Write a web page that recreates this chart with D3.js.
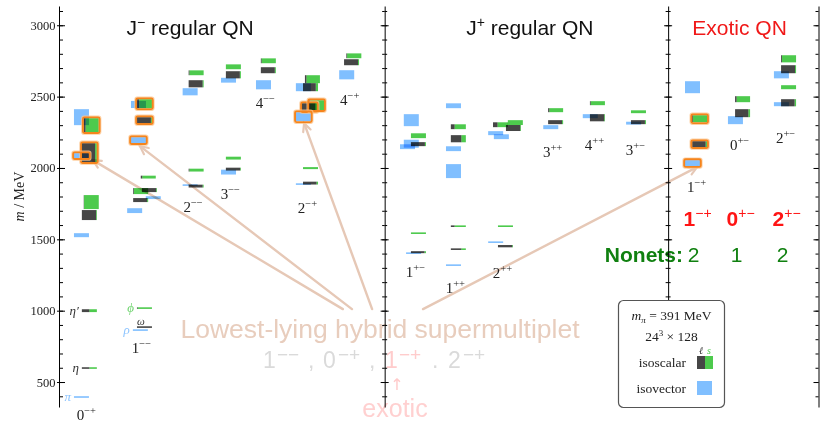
<!DOCTYPE html>
<html><head><meta charset="utf-8">
<script src="https://cdn.jsdelivr.net/npm/d3@7/dist/d3.min.js"></script>
<style>html,body{margin:0;padding:0;background:#fff;}svg{display:block;}</style>
</head><body>
<svg id="chart" width="820" height="423"></svg>
<script>
// ================= DATA =================
const columns   = ["0-+","1--","2--","3--","4--","2-+","4-+","1+-","1++","2++","3++","4++","3+-","1-+","0+-","2+-"];
const columnPos = [0.72,2.17,3.53,4.51,5.43,6.54,7.65,9.38,10.43,11.67,12.99,14.09,15.17,16.78,17.91,19.12];
const labelMass = [234,703,1690,1782,2419,1683,2440,1235,1123,1228,2076,2125,2090,1831,2125,2174];
const panelDividers = [8.57, 16.03];
const panelTitles = ["J⁻ regular QN","J⁺ regular QN","Exotic QN"];
const titlePos = [3.45, 12.39, 17.91];
const massTicks = [500,1000,1500,2000,2500,3000];

// isoscalar: [column, mass, error, light-quark fraction, hybrid, nudge]
const isoscalar = [
  ["0-+", 598, 4, 0.5, 0, 0], ["0-+", 1000, 10, 0.5, 0, 0], ["0-+", 1670, 35, 0.95, 0, 0],
  ["0-+", 1761, 49, 0.02, 0, 0.05], ["0-+", 2107, 67, 0.88, 1, 0], ["0-+", 2300, 49, 0.12, 1, 0.05],
  ["1--", 885, 2, 1.0, 0, 0], ["1--", 1018, 2, 0.05, 0, 0], ["1--", 1775, 14, 0.93, 0, -0.1],
  ["1--", 1838, 21, 0.05, 0, -0.1], ["1--", 1845, 14, 0.95, 0, 0.13], ["1--", 1936, 10, 0.1, 0, 0.1],
  ["1--", 2335, 21, 0.93, 1, 0], ["1--", 2450, 32, 0.15, 1, 0],
  ["2--", 1873, 10, 0.93, 0, 0], ["2--", 1985, 10, 0.05, 0, 0], ["2--", 2590, 25, 0.93, 0, 0], ["2--", 2667, 17, 0.05, 0, 0],
  ["3--", 1992, 10, 0.95, 0, 0], ["3--", 2069, 10, 0.0, 0, 0], ["3--", 2653, 25, 0.93, 0, 0], ["3--", 2709, 17, 0.0, 0, 0],
  ["4--", 2685, 21, 0.93, 0, 0], ["4--", 2751, 17, 0.05, 0, 0],
  ["2-+", 1894, 10, 0.9, 0, 0], ["2-+", 1999, 7, 0.0, 0, 0], ["2-+", 2566, 28, 0.85, 0, 0], ["2-+", 2622, 28, 0.1, 0, 0.05],
  ["2-+", 2426, 28, 0.9, 1, -0.03], ["2-+", 2440, 35, 0.08, 1, 0.16],
  ["4-+", 2741, 21, 0.93, 0, -0.03], ["4-+", 2786, 17, 0.05, 0, 0.03],
  ["1+-", 1410, 7, 0.9, 0, 0], ["1+-", 1543, 5, 0.0, 0, 0], ["1+-", 2167, 14, 0.93, 0, 0], ["1+-", 2226, 17, 0.0, 0, 0],
  ["1++", 1431, 5, 0.7, 0, 0], ["1++", 1592, 5, 0.25, 0, 0], ["1++", 2205, 25, 0.7, 0, 0], ["1++", 2289, 17, 0.25, 0, 0],
  ["2++", 1452, 8, 0.95, 0, 0], ["2++", 1592, 5, 0.0, 0, 0], ["2++", 2303, 17, 0.3, 0, -0.13],
  ["2++", 2318, 17, 0.0, 0, 0.26], ["2++", 2280, 21, 0.95, 0, 0.21],
  ["3++", 2321, 14, 0.93, 0, 0], ["3++", 2405, 14, 0.08, 0, 0],
  ["4++", 2352, 25, 0.95, 0, 0], ["4++", 2454, 14, 0.05, 0, 0],
  ["3+-", 2321, 14, 0.93, 0, 0], ["3+-", 2394, 10, 0.0, 0, 0],
  ["1-+", 2167, 21, 0.9, 1, 0], ["1-+", 2345, 25, 0.06, 1, 0],
  ["0+-", 2384, 28, 0.88, 0, 0], ["0+-", 2482, 21, 0.1, 0, 0],
  ["2+-", 2457, 25, 0.9, 0, 0], ["2+-", 2566, 14, 0.0, 0, 0], ["2+-", 2692, 28, 0.93, 0, 0], ["2+-", 2765, 25, 0.06, 0, 0]
];

// isovector: [column, mass, error, hybrid, nudge]
const isovector = [
  ["0-+", 395, 2, 0, -0.05], ["0-+", 1529, 14, 0, -0.05], ["0-+", 2086, 18, 1, -0.05], ["0-+", 2356, 56, 0, -0.05],
  ["1--", 864, 2, 0, 0.05], ["1--", 1701, 17, 0, -0.1], ["1--", 1792, 10, 0, 0.39], ["1--", 2195, 21, 1, 0], ["1--", 2445, 25, 0, 0],
  ["2--", 1880, 4, 0, 0], ["2--", 2534, 25, 0, 0],
  ["3--", 1971, 17, 0, 0.03], ["3--", 2615, 17, 0, 0.03],
  ["4--", 2583, 32, 0, 0.03],
  ["2-+", 1887, 4, 0, -0.03], ["2-+", 2566, 28, 0, -0.03], ["2-+", 2359, 32, 1, -0.03],
  ["4-+", 2653, 32, 0, 0],
  ["1+-", 1403, 4, 0, 0.03], ["1+-", 2335, 42, 0, -0.03], ["1+-", 2170, 28, 0, -0.03], ["1+-", 2149, 17, 0, -0.13],
  ["1++", 1319, 3, 0, 0.03], ["1++", 2135, 17, 0, 0.03], ["1++", 2436, 17, 0, 0.03], ["1++", 1978, 49, 0, 0.03],
  ["2++", 1480, 3, 0, -0.1], ["2++", 2244, 14, 0, -0.1], ["2++", 2219, 17, 0, 0.05],
  ["3++", 2286, 14, 0, 0.03], ["4++", 2363, 14, 0, -0.03], ["3+-", 2314, 10, 0, 0.03],
  ["1-+", 2566, 42, 0, -0.03], ["1-+", 2034, 21, 1, -0.03],
  ["0+-", 2335, 28, 0, -0.03],
  ["2+-", 2653, 25, 0, -0.03], ["2+-", 2447, 14, 0, -0.03]
];

// named light states: [label, kind, column, mass]
const particles = [["π","iv","0-+",395],["η","iso","0-+",598],["η′","iso","0-+",1000],
                   ["ρ","iv","1--",864],["ω","iso","1--",885],["ϕ","iso","1--",1018]];

const exoticCols = ["1-+","0+-","2+-"];
const nonets = [2,1,2];
const mPi = 391, latticeL = 24, latticeT = 128;

// annotation arrows: start [x-unit, mass] -> target [column, nudge, mass]
const arrowStarts  = [[7.47,1011],[7.71,1011],[8.24,1011],[9.58,1011]];
const arrowTargets = [["0-+",0.17,2055],["1--",-0.04,2153],["2-+",-0.09,2314],["1-+",0.01,2006]];

// ================= STYLE =================
const C_DARK = "#464646", C_GREEN = "#4dca4d", C_BLUE = "#80bfff", C_ORANGE = "#f5841c";
const SERIF = "'Liberation Serif','DejaVu Serif',serif";
const SANS = "'Liberation Sans',Arial,'DejaVu Sans',sans-serif";
const BW = 15, ISO_OFF = -4.5, IV_OFF = -10.5;

const svg = d3.select("#chart");
const x = d3.scaleLinear().domain([0, 20]).range([59, 819]);
const y = d3.scaleLinear().domain([325, 3135]).range([407, 6]);
const ux = u => x(u) - x(0);
const colX = c => x(columnPos[columns.indexOf(c)]);
const sgn = s => s.replace(/-/g, "−");

// ---------- annotation (behind) ----------
const gAnn = svg.append("g");
const annTan = "#e8cdbd";
gAnn.append("text").attr("x", 380).attr("y", 338).attr("text-anchor", "middle")
  .attr("font-family", SANS).attr("font-size", 26.5).attr("fill", annTan)
  .text("Lowest-lying hybrid supermultiplet");

const GRAY = "#dadada", PINK = "#ffcccc";
const line2 = gAnn.append("text").attr("x", 263).attr("y", 368)
  .attr("font-family", SANS).attr("font-size", 23);
// [text, superscript?, colour, left x]
const l2parts = [["1",0,GRAY,263],["−−",1,GRAY,277],[",",0,GRAY,308],["0",0,GRAY,323],["−+",1,GRAY,338],
                 [",",0,GRAY,369],["1",0,PINK,385],["−+",1,PINK,399],[".",0,GRAY,432],["2",0,GRAY,448],["−+",1,GRAY,463]];
l2parts.forEach(([s, sup, col, px]) => {
  const t = line2.append("tspan").attr("fill", col).attr("x", px).attr("y", sup ? 361 : 368).text(s);
  if (sup) t.attr("font-size", 19);
});
gAnn.append("text").attr("x", 397).attr("y", 390).attr("text-anchor", "middle")
  .attr("font-family", "'DejaVu Sans',sans-serif").attr("font-size", 16).attr("fill", "#ffcaca").text("↑");
gAnn.append("text").attr("x", 395).attr("y", 417).attr("text-anchor", "middle")
  .attr("font-family", SANS).attr("font-size", 25).attr("fill", "#ffd0d0").text("exotic");

arrowTargets.forEach((t, i) => {
  const [sxU, sm] = arrowStarts[i];
  const x1 = x(sxU), y1 = y(sm);
  const x2 = colX(t[0]) + ux(t[1]), y2 = y(t[2]);
  gAnn.append("line").attr("x1", x1).attr("y1", y1).attr("x2", x2).attr("y2", y2)
    .attr("stroke", "#e6c8b6").attr("stroke-width", 2.4).attr("stroke-linecap", "round");
  const a = Math.atan2(y1 - y2, x1 - x2), L = 9, sp = 0.45;
  gAnn.append("path")
    .attr("d", `M${x2 + L*Math.cos(a+sp)},${y2 + L*Math.sin(a+sp)}L${x2},${y2}L${x2 + L*Math.cos(a-sp)},${y2 + L*Math.sin(a-sp)}`)
    .attr("fill", "none").attr("stroke", "#e6c8b6").attr("stroke-width", 2.2).attr("stroke-linecap", "round");
});

// ---------- boxes ----------
const gBox = svg.append("g");
function boxGeom(m, e) {
  const h = Math.max(y(m - e) - y(m + e), 1.6);
  return { top: y(m) - h / 2, h };
}
const outlines = [];
isoscalar.forEach(([col, m, e, fl, hyb, nd]) => {
  const x0 = colX(col) + ISO_OFF + ux(nd);
  const g = boxGeom(m, e);
  const wd = BW * fl;
  if (wd > 0) gBox.append("rect").attr("x", x0).attr("y", g.top).attr("width", wd).attr("height", g.h)
    .attr("fill", C_DARK).style("mix-blend-mode", "multiply");
  if (BW - wd > 0) gBox.append("rect").attr("x", x0 + wd).attr("y", g.top).attr("width", BW - wd).attr("height", g.h)
    .attr("fill", C_GREEN).style("mix-blend-mode", "multiply");
  if (hyb) outlines.push([x0, g.top, BW, g.h]);
});
isovector.forEach(([col, m, e, hyb, nd]) => {
  const x0 = colX(col) + IV_OFF + ux(nd);
  const g = boxGeom(m, e);
  gBox.append("rect").attr("x", x0).attr("y", g.top).attr("width", BW).attr("height", g.h)
    .attr("fill", C_BLUE).style("mix-blend-mode", "multiply");
  if (hyb) outlines.push([x0, g.top, BW, g.h]);
});
outlines.forEach(([x0, y0, w, h]) => {
  gBox.append("rect").attr("x", x0 - 1.8).attr("y", y0 - 1.8).attr("width", w + 3.6).attr("height", h + 3.6)
    .attr("rx", 2).attr("fill", "none").attr("stroke", "#fcc58e").attr("stroke-width", 1.6).attr("opacity", 0.8);
  gBox.append("rect").attr("x", x0 - 0.8).attr("y", y0 - 0.8).attr("width", w + 1.6).attr("height", h + 1.6)
    .attr("rx", 1.5).attr("fill", "none").attr("stroke", C_ORANGE).attr("stroke-width", 1.9);
});

// particle names
particles.forEach(([name, kind, col, m]) => {
  let left, color;
  if (kind === "iv") {
    const s = isovector.find(d => d[0] === col && d[1] === m);
    left = colX(col) + IV_OFF + ux(s[4]); color = "#8cc4ff";
  } else {
    const s = isoscalar.find(d => d[0] === col && d[1] === m);
    left = colX(col) + ISO_OFF + ux(s[5]); color = name === "ϕ" ? "#6fd46f" : "#333";
  }
  const t = gBox.append("text").attr("font-family", SERIF).attr("font-style", "italic")
    .attr("font-size", 13).attr("fill", color).text(name);
  if (name === "ω") t.attr("x", left).attr("y", y(m) - 2.5).attr("font-size", 11);
  else t.attr("x", left - 3).attr("y", y(m) + 4).attr("text-anchor", "end");
});

// column labels
columns.forEach((c, i) => {
  const t = gBox.append("text").attr("x", x(columnPos[i])).attr("y", y(labelMass[i]))
    .attr("text-anchor", "middle").attr("font-family", SERIF).attr("font-size", 15).attr("fill", "#222");
  t.append("tspan").text(c[0]);
  t.append("tspan").attr("font-size", 10.5).attr("dy", -6).text(sgn(c.slice(1)));
});

// panel titles
panelTitles.forEach((s, i) => {
  const t = svg.append("text").attr("x", x(titlePos[i])).attr("y", 35).attr("text-anchor", "middle")
    .attr("font-family", SANS).attr("font-size", 21).attr("fill", i === 2 ? "#f01818" : "#111");
  if (s[0] === "J") {
    t.append("tspan").text("J");
    t.append("tspan").attr("font-size", 14).attr("dy", -8).text(s[1] === "⁻" ? "−" : "+");
    t.append("tspan").attr("dy", 8).text(s.slice(2));
  } else t.text(s);
});

// exotic QN + nonets
exoticCols.forEach((c, i) => {
  const t = svg.append("text").attr("x", colX(c) + 1).attr("y", 226).attr("text-anchor", "middle")
    .attr("font-family", SANS).attr("fill", "#ff1414");
  t.append("tspan").attr("font-size", 21).attr("font-weight", "bold").text(c[0]);
  t.append("tspan").attr("font-size", 14).attr("dy", -8).text(sgn(c.slice(1)));
  svg.append("text").attr("x", colX(c) - 3).attr("y", 262).attr("text-anchor", "middle")
    .attr("font-family", SANS).attr("font-size", 21).attr("fill", "#108010").text(nonets[i]);
});
svg.append("text").attr("x", 683).attr("y", 262).attr("text-anchor", "end")
  .attr("font-family", SANS).attr("font-size", 21).attr("font-weight", "bold").attr("fill", "#108010").text("Nonets:");

// ---------- axes ----------
const minorTicks = d3.range(400, 3200, 100);
const gAx = svg.append("g");
gAx.append("g").attr("transform", `translate(${x(0)},0)`)
  .call(d3.axisLeft(y).tickValues(massTicks).tickSize(2).tickSizeOuter(0).tickPadding(1.5).tickFormat(d3.format("d")))
  .call(g => g.selectAll("text").attr("font-family", SERIF).attr("font-size", 12.5).attr("fill", "#222"))
  .call(g => g.selectAll("line,path").attr("stroke", "#000"));
gAx.append("g").attr("transform", `translate(${x(0)},0)`)
  .call(d3.axisRight(y).tickValues(minorTicks).tickSize(4).tickSizeOuter(0).tickFormat(""))
  .call(g => g.select(".domain").remove());
gAx.append("g").attr("transform", `translate(${x(0)},0)`)
  .call(d3.axisRight(y).tickValues(massTicks).tickSize(6).tickSizeOuter(0).tickFormat(""))
  .call(g => g.select(".domain").remove());
panelDividers.forEach(u => {
  const gd = gAx.append("g").attr("transform", `translate(${x(u)},0)`);
  gd.call(d3.axisLeft(y).tickValues(minorTicks).tickSize(2.5).tickSizeOuter(0).tickFormat(""));
  gd.append("g").call(d3.axisRight(y).tickValues(minorTicks).tickSize(2.5).tickSizeOuter(0).tickFormat(""))
    .call(g => g.select(".domain").remove());
  gd.append("g").call(d3.axisLeft(y).tickValues(massTicks).tickSize(4).tickSizeOuter(0).tickFormat(""))
    .call(g => g.select(".domain").remove());
  gd.append("g").call(d3.axisRight(y).tickValues(massTicks).tickSize(4).tickSizeOuter(0).tickFormat(""))
    .call(g => g.select(".domain").remove());
});
const gr = gAx.append("g").attr("transform", `translate(${x(20) - 0.5},0)`);
gr.call(d3.axisLeft(y).tickValues(minorTicks).tickSize(3).tickSizeOuter(0).tickFormat(""));
gr.append("g").call(d3.axisLeft(y).tickValues(massTicks).tickSize(5).tickSizeOuter(0).tickFormat(""))
  .call(g => g.select(".domain").remove());

// y title
const yt = svg.append("text").attr("transform", `translate(24,${y(1800)}) rotate(-90)`)
  .attr("text-anchor", "middle").attr("font-family", SERIF).attr("font-size", 14).attr("fill", "#222");
yt.append("tspan").attr("font-style", "italic").text("m");
yt.append("tspan").text(" / MeV");

// ---------- legend ----------
const lg = svg.append("g").attr("transform", "translate(618.5,300.5)");
lg.append("rect").attr("width", 106).attr("height", 107).attr("rx", 5)
  .attr("fill", "#fff").attr("stroke", "#555").attr("stroke-width", 1.2);
const t1 = lg.append("text").attr("x", 53).attr("y", 19).attr("text-anchor", "middle")
  .attr("font-family", SERIF).attr("font-size", 13.5).attr("fill", "#222");
t1.append("tspan").attr("font-style", "italic").text("m");
t1.append("tspan").attr("font-style", "italic").attr("font-size", 9).attr("dy", 3).text("π");
t1.append("tspan").attr("dy", -3).text(` = ${mPi} MeV`);
const t2 = lg.append("text").attr("x", 53).attr("y", 40).attr("text-anchor", "middle")
  .attr("font-family", SERIF).attr("font-size", 13.5).attr("fill", "#222");
t2.append("tspan").text(latticeL);
t2.append("tspan").attr("font-size", 9).attr("dy", -5).text("3");
t2.append("tspan").attr("dy", 5).text(` × ${latticeT}`);
lg.append("text").attr("x", 82.5).attr("y", 53.5).attr("text-anchor", "middle").attr("font-family", SERIF)
  .attr("font-style", "italic").attr("font-size", 10).attr("fill", "#333").text("ℓ");
lg.append("text").attr("x", 90.5).attr("y", 53.5).attr("text-anchor", "middle").attr("font-family", SERIF)
  .attr("font-style", "italic").attr("font-size", 10).attr("fill", C_GREEN).text("s");
lg.append("text").attr("x", 67.5).attr("y", 66.5).attr("text-anchor", "end").attr("font-family", SERIF)
  .attr("font-size", 13.5).attr("fill", "#222").text("isoscalar");
lg.append("rect").attr("x", 78.5).attr("y", 55.5).attr("width", 8).attr("height", 13).attr("fill", C_DARK);
lg.append("rect").attr("x", 86.5).attr("y", 55.5).attr("width", 8).attr("height", 13).attr("fill", C_GREEN);
lg.append("text").attr("x", 67.5).attr("y", 92.5).attr("text-anchor", "end").attr("font-family", SERIF)
  .attr("font-size", 13.5).attr("fill", "#222").text("isovector");
lg.append("rect").attr("x", 78.5).attr("y", 80.5).attr("width", 15).attr("height", 14).attr("fill", C_BLUE);
</script>
</body></html>
